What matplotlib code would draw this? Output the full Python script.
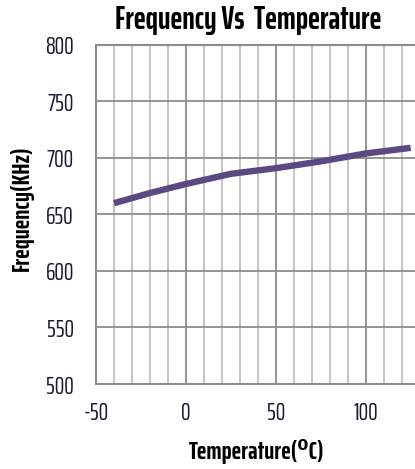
import matplotlib
matplotlib.use("Agg")
import matplotlib.pyplot as plt
from matplotlib.ticker import MultipleLocator

# Oscillator frequency across operating temperature
temperature_c = [-40, -20, 0, 25, 50, 75, 100, 125]
frequency_khz = [660, 669, 677, 686, 691, 697, 704, 709]

x_ticks = [-50, 0, 50, 100]
y_ticks = [500, 550, 600, 650, 700, 750, 800]

plt.rcParams["axes.unicode_minus"] = False
narrow = ["Saira ExtraCondensed", "DejaVu Sans"]
label_color = "#1c1c34"

fig = plt.figure(figsize=(4.15, 4.69), dpi=100)
ax = fig.add_axes([96 / 415, 1 - 384 / 469, 1 - 96 / 415, (384 - 45) / 469])

ax.plot(temperature_c, frequency_khz, color="#5b4a82", linewidth=4.6,
        solid_capstyle="butt", zorder=3)

ax.set_xlim(-50, 127.4)
ax.set_ylim(500, 800)
ax.set_xticks(x_ticks)
ax.set_yticks(y_ticks)
ax.xaxis.set_minor_locator(MultipleLocator(10))

ax.grid(which="major", color="#8c8c8c", linewidth=1.3)
ax.grid(which="minor", axis="x", color="#c0c0c0", linewidth=1.3)
ax.set_axisbelow(True)

for side in ("left", "bottom", "top"):
    ax.spines[side].set_color("#8c8c8c")
    ax.spines[side].set_linewidth(1.5)
ax.spines["right"].set_visible(False)

ax.tick_params(which="both", length=0)
ax.tick_params(axis="y", pad=16)
ax.tick_params(axis="x", pad=12)
for lbl in ax.get_xticklabels() + ax.get_yticklabels():
    lbl.set_fontfamily(narrow)
    lbl.set_fontsize(17.5)
    lbl.set_color(label_color)

fig.text(248 / 415, 1 - 20 / 469, "Frequency Vs  Temperature",
         family=narrow, fontsize=23, fontweight="bold", color="black",
         ha="center", va="center")
fig.text(257 / 415, 1 - 451 / 469, "Temperature(\u2070C)",
         family=narrow, fontsize=18.5, fontweight="bold", color="black",
         ha="center", va="center")
fig.text(22 / 415, 1 - 208 / 469, "Frequency(KHz)",
         family=narrow, fontsize=18.5, fontweight="bold", color="black",
         ha="center", va="center", rotation=90)

fig.savefig("out.png", dpi=100)
